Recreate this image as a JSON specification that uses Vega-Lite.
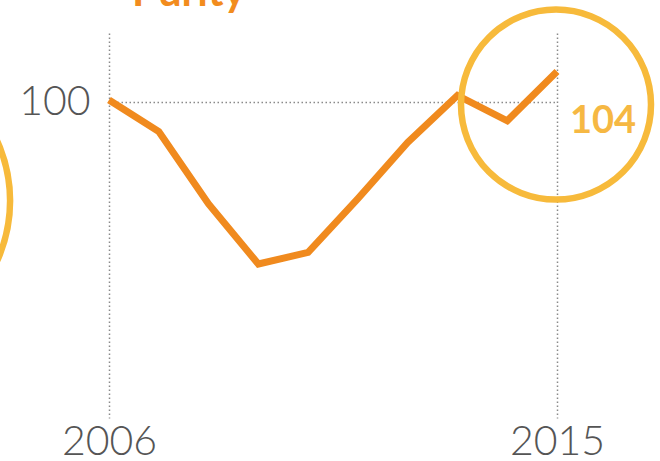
{
  "$schema": "https://vega.github.io/schema/vega-lite/v6.json",
  "width": 448,
  "height": 385,
  "autosize": "none",
  "padding": {"left": 109, "top": 33, "right": 103, "bottom": 43},
  "background": "white",
  "config": {
    "view": {"stroke": null},
    "axis": {
      "domain": false,
      "ticks": false,
      "grid": true,
      "gridColor": "#8a8a8a",
      "gridDash": [1.5, 2.5],
      "gridWidth": 1.5,
      "labelFont": "Lato",
      "labelFontWeight": 300,
      "labelColor": "#555555",
      "labelFontSize": 41,
      "title": null
    }
  },
  "datasets": {
    "series": [
      {"year": 2006, "value": 100.3},
      {"year": 2007, "value": 96.2},
      {"year": 2008, "value": 86.8},
      {"year": 2009, "value": 79.0},
      {"year": 2010, "value": 80.5},
      {"year": 2011, "value": 87.5},
      {"year": 2012, "value": 94.8},
      {"year": 2013, "value": 100.9},
      {"year": 2014, "value": 97.6},
      {"year": 2015, "value": 104.0}
    ],
    "rightRing": [{"year": 2014.98, "value": 99.7}],
    "leftRing": [{"year": 2001.1, "value": 87.2}]
  },
  "encoding": {
    "x": {
      "field": "year",
      "type": "quantitative",
      "scale": {"domain": [2006, 2015], "nice": false, "zero": false},
      "axis": {"values": [2006, 2015], "format": "d", "labelPadding": 4, "labelFlush": false}
    },
    "y": {
      "field": "value",
      "type": "quantitative",
      "scale": {"domain": [59, 109], "nice": false, "zero": false},
      "axis": {"values": [100], "format": "d", "labelPadding": 19}
    }
  },
  "layer": [
    {
      "data": {"name": "series"},
      "mark": {"type": "line", "color": "#F08A1E", "strokeWidth": 7, "clip": false}
    },
    {
      "data": {"name": "rightRing"},
      "mark": {"type": "point", "shape": "circle", "filled": false, "stroke": "#F7BA3B", "strokeWidth": 6.5, "size": 36100, "opacity": 1, "clip": false}
    },
    {
      "data": {"name": "leftRing"},
      "mark": {"type": "point", "shape": "circle", "filled": false, "stroke": "#F7BA3B", "strokeWidth": 6.5, "size": 84100, "opacity": 1, "clip": false}
    },
    {
      "data": {"name": "series"},
      "transform": [{"filter": "datum.year == 2015"}],
      "mark": {"type": "text", "font": "Lato", "fontWeight": "bold", "fontSize": 38, "color": "#F6B843", "dx": 46, "dy": 50, "align": "center", "baseline": "middle", "clip": false},
      "encoding": {"text": {"field": "value", "type": "quantitative", "format": ".0f"}}
    },
    {
      "data": {"name": "series"},
      "transform": [{"filter": "datum.year == 2006"}],
      "mark": {"type": "text", "text": "Purity", "font": "Lato", "fontWeight": "bold", "fontSize": 42, "color": "#F28C1E", "dx": 23, "dy": -94, "align": "left", "baseline": "alphabetic", "clip": false}
    }
  ]
}
